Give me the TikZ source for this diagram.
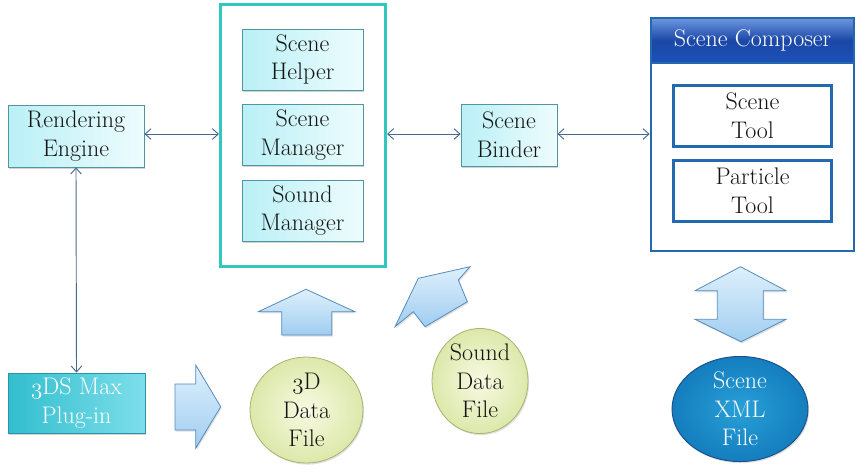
\documentclass[tikz,border=0pt]{standalone}
\usepackage{fontspec}
\usetikzlibrary{arrows.meta,shadows,shapes.geometric}
\newcommand\osthree{$\mathnormal{3}$}
\definecolor{txt}{RGB}{20,20,20}
\definecolor{cyanL}{RGB}{185,240,246}
\definecolor{cyanR}{RGB}{238,252,253}
\definecolor{cyanline}{RGB}{80,150,160}
\definecolor{teal}{RGB}{48,200,190}
\definecolor{maxL}{RGB}{50,190,206}
\definecolor{maxR}{RGB}{125,222,234}
\definecolor{maxline}{RGB}{40,150,170}
\definecolor{compblue}{RGB}{35,105,175}
\definecolor{hdrtop}{RGB}{110,150,225}
\definecolor{hdrbot}{RGB}{30,80,185}
\definecolor{conn}{RGB}{70,105,145}
\definecolor{barL}{RGB}{222,240,252}
\definecolor{barD}{RGB}{160,205,240}
\definecolor{barline}{RGB}{85,140,190}
\definecolor{yelIn}{RGB}{248,250,226}
\definecolor{yelOut}{RGB}{220,232,170}
\definecolor{yelline}{RGB}{170,178,110}
\definecolor{xmlIn}{RGB}{40,160,215}
\definecolor{xmlOut}{RGB}{20,125,190}
\definecolor{xmlline}{RGB}{25,80,140}
\tikzset{
  x=0.75pt, y=-0.75pt,
  every node/.style={font=\fontsize{18}{21.5}\selectfont, align=center, text=txt, inner sep=0pt},
  sz/.style 2 args={minimum width=#1*0.75pt, minimum height=#2*0.75pt},
  cyanbox/.style={rectangle, draw=cyanline, line width=0.6pt, left color=cyanL, right color=cyanR,
    drop shadow={opacity=0.35, shadow xshift=0.8pt, shadow yshift=-1.2pt}},
  maxbox/.style={rectangle, draw=maxline, line width=0.6pt, left color=maxL, right color=maxR, text=white,
    drop shadow={opacity=0.35, shadow xshift=0.8pt, shadow yshift=-1.2pt}},
  toolbox/.style={rectangle, draw=compblue, line width=1.6pt, fill=white},
  conn/.style={draw=conn, line width=0.7pt, {Straight Barb[length=4.5pt,width=8pt]}-{Straight Barb[length=4.5pt,width=8pt]}},
  blockarr/.style={draw=barline, line width=0.6pt, top color=barL, bottom color=barD,
    drop shadow={opacity=0.25, shadow xshift=0.8pt, shadow yshift=-1.2pt}},
  datafile/.style={ellipse, draw=yelline, line width=0.6pt, inner color=yelIn, outer color=yelOut,
    drop shadow={opacity=0.25, shadow xshift=0.8pt, shadow yshift=-1.2pt}},
}
\begin{document}
\begin{tikzpicture}
\useasboundingbox (0,0) rectangle (862,475);
% left boxes
\node[cyanbox, sz={136}{62}] (re) at (76,136) {Rendering\\Engine};
\node[maxbox, sz={137}{60}] (max) at (76.5,403) {\osthree DS Max\\Plug-in};
% big teal container
\node[rectangle, draw=teal, line width=2.25pt, fill=white, sz={165}{262}] (big) at (303,135.5) {};
\node[cyanbox, sz={121}{61}] (helper) at (302.5,59.5) {Scene\\Helper};
\node[cyanbox, sz={121}{61}] (smgr) at (302.5,135) {Scene\\Manager};
\node[cyanbox, sz={121}{61}] (sound) at (302.5,210.5) {Sound\\Manager};
% binder
\node[cyanbox, sz={96}{62}] (binder) at (509,135) {Scene\\Binder};
% scene composer
\node[rectangle, draw=compblue, line width=2pt, fill=white, sz={203}{233}] (comp) at (752.5,134.5) {};
\node[rectangle, draw=compblue, line width=1pt, shading=axis, top color=hdrtop, bottom color=hdrbot, middle color=hdrbot!90!black, sz={203}{45}, text=white] (hdr) at (752.5,40.5) {Scene Composer};
\node[toolbox, sz={158}{61}] (stool) at (752.5,116) {Scene\\Tool};
\node[toolbox, sz={158}{61}] (ptool) at (752.5,191) {Particle\\Tool};
% connectors
\draw[conn] (re.east |- 0,134) -- (big.west |- 0,134);
\draw[conn] (big.east |- 0,134) -- (binder.west |- 0,134);
\draw[conn] (binder.east |- 0,134) -- (comp.west |- 0,134);
\draw[conn] (re.south) -- (max.north);
% data files
\node[datafile, sz={113}{106}] (d3) at (306.5,410) {\osthree D\\Data\\File};
\node[datafile, sz={96}{102}] (snd) at (480,381) {Sound\\Data\\File};
\node[ellipse, draw=xmlline, line width=0.7pt, inner color=xmlIn, outer color=xmlOut, text=white, sz={136}{98},
  drop shadow={opacity=0.25, shadow xshift=0.8pt, shadow yshift=-1.2pt}] (xml) at (740,409) {Scene\\XML\\File};
% block arrows
\draw[blockarr] (175,384) -- (195.7,384) -- (195.7,365) -- (220.7,406.7) -- (195.7,448.3) -- (195.7,430) -- (175,430) -- cycle;
\draw[blockarr] (306,289.3) -- (355,311.7) -- (331.7,311.7) -- (331.7,335) -- (281.7,335) -- (281.7,311.7) -- (258.3,311.7) -- cycle;
\draw[blockarr] (418.3,278.3) -- (470,266.7) -- (458.3,280) -- (467.3,301.7) -- (425,326.7) -- (413.3,311.7) -- (395,326.7) -- cycle;
\draw[blockarr] (740.5,266.7) -- (786,290.7) -- (763.3,290.7) -- (763.3,319.3) -- (786,319.3) -- (741,341.7) -- (695,319.3) -- (717.3,319.3) -- (717.3,290.7) -- (695,290.7) -- cycle;
\end{tikzpicture}
\end{document}
